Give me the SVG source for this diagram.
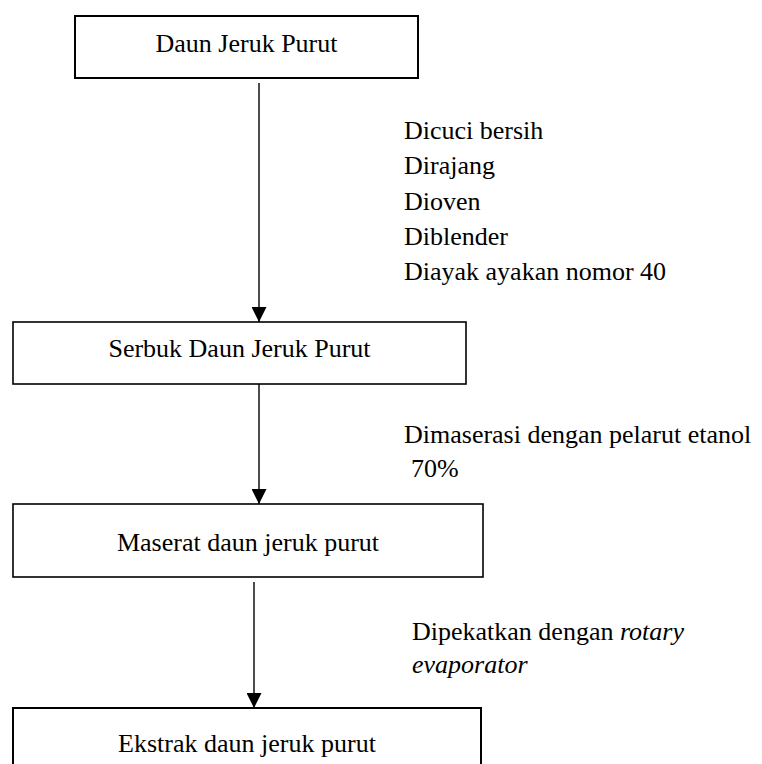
<svg xmlns="http://www.w3.org/2000/svg" width="762" height="764" viewBox="0 0 762 764" font-family="'Liberation Serif', 'Times New Roman', 'DejaVu Serif', serif">
<style>
text{font-family:'Liberation Serif','Times New Roman','DejaVu Serif',serif;font-size:26px;fill:#000}
.box{fill:#fff;stroke:#000;stroke-width:2}
.ctr{text-anchor:middle}
.conn line{stroke:#000;stroke-width:1.4}
</style>
<defs>
<marker id="ah" markerUnits="userSpaceOnUse" markerWidth="16" markerHeight="15" refX="15" refY="7.5" orient="auto">
<path d="M0,0 L15,7.5 L0,15 Z" fill="#000"/>
</marker>
</defs>
<rect width="762" height="764" fill="#fff"/>
<g id="connectors" class="conn">
<line x1="259" y1="83" x2="259" y2="322" marker-end="url(#ah)"/>
<line x1="259" y1="384" x2="259" y2="504" marker-end="url(#ah)"/>
<line x1="254" y1="582" x2="254" y2="708" marker-end="url(#ah)"/>
</g>
<g id="node1">
<rect class="box" x="75" y="16" width="343" height="62"/>
<text class="ctr" x="246.5" y="52" font-family="Liberation Serif">Daun Jeruk Purut</text>
</g>
<g id="node2">
<rect class="box" x="13" y="322" width="453" height="62" style="stroke-width:1.6"/>
<text class="ctr" x="239.5" y="357" font-family="Liberation Serif">Serbuk Daun Jeruk Purut</text>
</g>
<g id="node3">
<rect class="box" x="13" y="504" width="470" height="73" style="stroke-width:1.6"/>
<text class="ctr" x="248" y="551" font-family="Liberation Serif">Maserat daun jeruk purut</text>
</g>
<g id="node4">
<rect class="box" x="13" y="708" width="468" height="70"/>
<text class="ctr" x="247" y="752" font-family="Liberation Serif">Ekstrak daun jeruk purut</text>
</g>
<g id="label1" font-family="Liberation Serif">
<text x="404" y="138.5">Dicuci bersih</text>
<text x="404" y="174">Dirajang</text>
<text x="404" y="209.5">Dioven</text>
<text x="404" y="245">Diblender</text>
<text x="404" y="280">Diayak ayakan nomor 40</text>
</g>
<g id="label2" font-family="Liberation Serif">
<text x="404" y="443">Dimaserasi dengan pelarut etanol</text>
<text x="411" y="477">70%</text>
</g>
<g id="label3" font-family="Liberation Serif">
<text x="412" y="640">Dipekatkan dengan <tspan font-style="italic">rotary</tspan></text>
<text x="412" y="673" font-style="italic">evaporator</text>
</g>
</svg>
